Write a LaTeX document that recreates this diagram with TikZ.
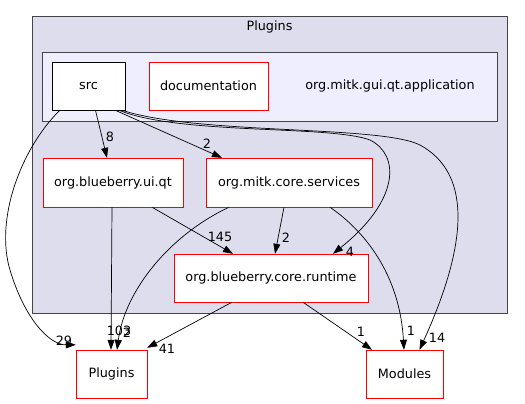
\documentclass[tikz,border=0pt]{standalone}
\usepackage{fontspec}
\setmainfont{DejaVu Sans}
\usetikzlibrary{arrows.meta, positioning}

\begin{document}
\begin{tikzpicture}[x=1pt, y=-1pt,
  box/.style={draw, fill=white, rectangle, inner sep=0pt, font=\fontsize{12.8}{15}\selectfont},
  dirbox/.style={box, draw=red},
  dep/.style={-{Triangle[length=10pt,width=7pt]}, black, line width=0.7pt},
  lbl/.style={font=\fontsize{12.8}{15}\selectfont, inner sep=0pt}]
\useasboundingbox (0,0) rectangle (525,404);
\fill [fill={rgb,255:red,221;green,221;blue,238}, draw={rgb,255:red,68;green,68;blue,68}, line width=0.8pt] (32,16) rectangle (507,313);
\node (outertitle) at (269.5,27) [lbl] {Plugins};
\fill [fill={rgb,255:red,238;green,238;blue,255}, draw={rgb,255:red,68;green,68;blue,68}, line width=0.8pt] (42,52) rectangle (497,121);
\node (innertitle) at (390,86) [lbl] {org.mitk.gui.qt.application};
\node (src) at (88.5,86) [box, minimum width=73pt, minimum height=48pt, line width=0.8pt] {src};
\node (documentation) at (208.5,86) [dirbox, minimum width=119pt, minimum height=48pt] {documentation};
\node (uiqt) at (113,182.5) [dirbox, minimum width=140pt, minimum height=49pt] {org.blueberry.ui.qt};
\node (services) at (289,182.5) [dirbox, minimum width=166pt, minimum height=49pt] {org.mitk.core.services};
\node (runtime) at (271,278) [dirbox, minimum width=194pt, minimum height=48pt] {org.blueberry.core.runtime};
\node (plugins) at (111.5,374) [dirbox, minimum width=71pt, minimum height=48pt] {Plugins};
\node (modules) at (404.5,374) [dirbox, minimum width=77pt, minimum height=48pt] {Modules};
\draw [dep] ([xshift=8pt]src.south west) .. controls (20,150) and (-5,220) .. (10,270) .. controls (25,320) and (50,345) .. ([yshift=5pt]plugins.north west);
\node (l29) at (64,341) [lbl] {29};
\draw [dep] ([xshift=7pt]src.south) -- ([xshift=-6pt]uiqt.north);
\node (l8) at (110,137) [lbl] {8};
\draw [dep] ([xshift=27pt]src.south) -- ([xshift=-67pt]services.north);
\node (l2a) at (207,144) [lbl] {2};
\draw [dep] ([xshift=-6pt]src.south east) .. controls (180,135) and (330,125) .. (370,140) .. controls (400,155) and (400,200) .. ([xshift=62pt]runtime.north);
\node (l4) at (350,252) [lbl] {4};
\draw [dep] ([xshift=-3pt]src.south east) .. controls (200,135) and (380,125) .. (420,145) .. controls (475,175) and (465,250) .. ([xshift=15pt]modules.north);
\node (l14) at (437,338) [lbl] {14};
\draw [dep] ([xshift=-1pt]uiqt.south) -- ([xshift=-0.5pt]plugins.north);
\node (l103) at (119,331) [lbl] {103};
\draw [dep] ([xshift=39pt]uiqt.south) -- ([xshift=-38pt]runtime.north);
\node (l145) at (220,237) [lbl] {145};
\draw [dep] ([xshift=-60pt]services.south) .. controls (170,235) and (125,290) .. ([xshift=5.5pt]plugins.north);
\node (l2b) at (127,333) [lbl] {2};
\draw [dep] ([xshift=-5pt]services.south) -- ([xshift=4pt]runtime.north);
\node (l2c) at (286,238) [lbl] {2};
\draw [dep] ([xshift=41pt]services.south) .. controls (370,235) and (400,280) .. ([xshift=-0.5pt]modules.north);
\node (l1a) at (411,331) [lbl] {1};
\draw [dep] ([xshift=-39pt]runtime.south) -- ([yshift=2pt]plugins.north east);
\node (l41) at (167,349) [lbl] {41};
\draw [dep] ([xshift=32pt]runtime.south) -- ([xshift=-32.5pt]modules.north);
\node (l1b) at (361,332) [lbl] {1};
\end{tikzpicture}
\end{document}
